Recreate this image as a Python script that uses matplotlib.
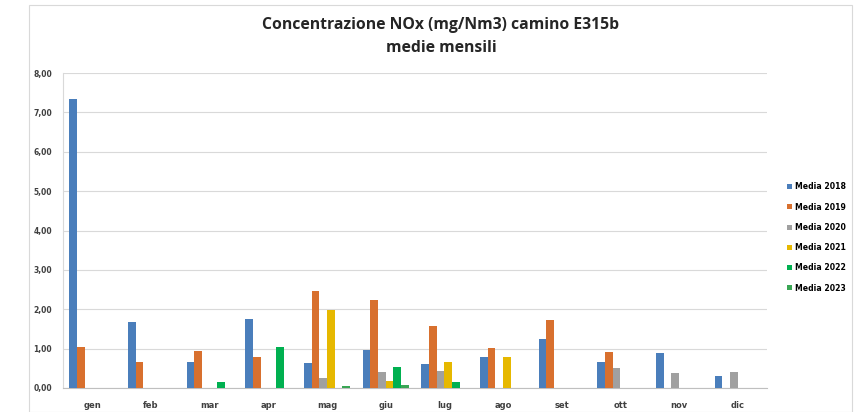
import matplotlib.pyplot as plt
import numpy as np
from matplotlib.patches import Rectangle

mesi = ['gen', 'feb', 'mar', 'apr', 'mag', 'giu', 'lug', 'ago', 'set', 'ott', 'nov', 'dic']
serie = ['Media 2018', 'Media 2019', 'Media 2020', 'Media 2021', 'Media 2022', 'Media 2023']

media_2018 = [7.33, 1.67, 0.65, 1.76, 0.64, 0.97, 0.61, 0.78, 1.25, 0.66, 0.89, 0.31]
media_2019 = [1.04, 0.66, 0.93, 0.80, 2.47, 2.23, 1.58, 1.02, 1.72, 0.91, 0, 0]
media_2020 = [0, 0, 0, 0, 0.25, 0.41, 0.42, 0, 0, 0.51, 0.38, 0.41]
media_2021 = [0, 0, 0, 0, 1.99, 0.17, 0.66, 0.80, 0, 0, 0, 0]
media_2022 = [0, 0, 0.15, 1.04, 0, 0.53, 0.15, 0, 0, 0, 0, 0]
media_2023 = [0, 0, 0, 0, 0.06, 0.08, 0, 0, 0, 0, 0, 0]

valori = [media_2018, media_2019, media_2020, media_2021, media_2022, media_2023]
colori = ['#4A7EBB', '#D8702E', '#A0A0A0', '#E6B800', '#00B050', '#3AA655']

fig = plt.figure(figsize=(8.58, 4.12), dpi=100)
fig.patches.append(Rectangle((29/858, 0.0), 823/858, 1 - 5/412, transform=fig.transFigure,
                             fill=False, edgecolor='#D9D9D9', linewidth=0.8, zorder=0))
ax = fig.add_axes([63/858, 1 - 388/412, 704/858, 315/412])

x = np.arange(len(mesi))
w = 0.13
for k, (vals, nome, col) in enumerate(zip(valori, serie, colori)):
    ax.bar(x + (k - 2.5) * w, vals, width=w, color=col, label=nome, zorder=3)

ax.set_xlim(-0.5, 11.5)
ax.set_ylim(0, 8)
ax.set_yticks(np.arange(0, 9, 1))
ax.set_yticklabels([f'{v:.2f}'.replace('.', ',') for v in range(9)],
                   fontsize=5.5, fontweight='bold', color='#404040')
ax.set_xticks(x)
ax.set_xticklabels(mesi, fontsize=6, fontweight='bold', color='#404040')
ax.tick_params(axis='both', length=0)
ax.tick_params(axis='y', pad=8)
ax.tick_params(axis='x', pad=9)
ax.grid(axis='y', color='#D9D9D9', linewidth=0.8, zorder=0)
for s in ['top', 'right']:
    ax.spines[s].set_visible(False)
ax.spines['left'].set_color('#D9D9D9')
ax.spines['bottom'].set_color('#BFBFBF')

fig.text(441/858, 1 - 25/412, 'Concentrazione NOx (mg/Nm3) camino E315b',
         ha='center', va='center', fontsize=11.3, fontweight='bold', color='#262626',
         family='Open Sans')
fig.text(441/858, 1 - 48/412, 'medie mensili',
         ha='center', va='center', fontsize=11.3, fontweight='bold', color='#262626',
         family='Open Sans')

ax.legend(loc='center left', bbox_to_anchor=(1.019, 0.478), frameon=False,
          prop={'size': 5.6, 'weight': 'bold'}, handlelength=0.6, handleheight=0.6,
          handletextpad=0.4, labelspacing=1.45)

fig.savefig('out.png', dpi=100)
